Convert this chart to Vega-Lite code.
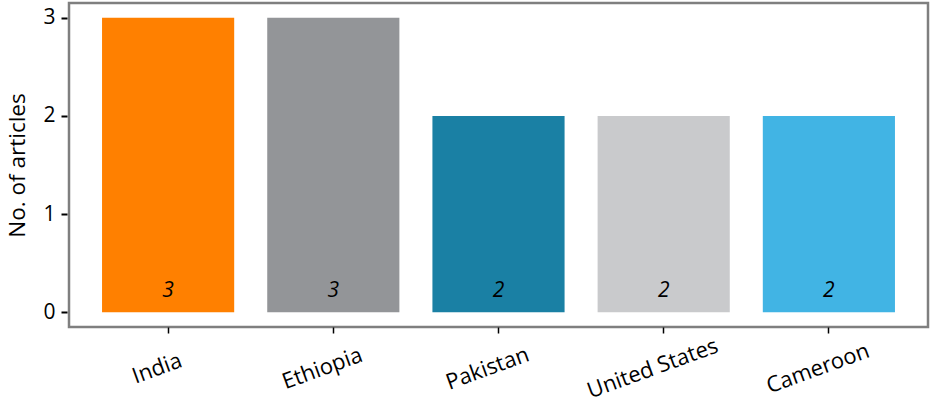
{
  "$schema": "https://vega.github.io/schema/vega-lite/v6.json",
  "autosize": {"type": "none"},
  "padding": {"left": 69, "top": 3, "right": 2, "bottom": 81},
  "width": 859,
  "height": 324,
  "background": "white",
  "config": {
    "view": {"stroke": "#7f7f7f", "strokeWidth": 2.5},
    "font": "Open Sans"
  },
  "data": {
    "values": [
      {"country": "India", "articles": 3},
      {"country": "Ethiopia", "articles": 3},
      {"country": "Pakistan", "articles": 2},
      {"country": "United States", "articles": 2},
      {"country": "Cameroon", "articles": 2}
    ]
  },
  "encoding": {
    "x": {
      "field": "country",
      "type": "nominal",
      "sort": null,
      "scale": {"paddingInner": 0.2, "paddingOuter": 0.2},
      "axis": {
        "title": null,
        "domain": false,
        "grid": false,
        "ticks": true,
        "tickColor": "black",
        "tickSize": 6,
        "tickWidth": 1.5,
        "labelAngle": -20,
        "labelAlign": "center",
        "labelBaseline": "middle",
        "labelOffset": -11,
        "labelPadding": 35,
        "labelFontSize": 22,
        "labelColor": "black",
        "labelFont": "Open Sans"
      }
    }
  },
  "layer": [
    {
      "mark": {"type": "bar"},
      "encoding": {
        "y": {
          "field": "articles",
          "type": "quantitative",
          "scale": {"domain": [-0.15, 3.15], "nice": false, "zero": false},
          "axis": {
            "title": "No. of articles",
            "titleFontSize": 22.5,
            "titleFontWeight": "normal",
            "titleColor": "black",
            "titleFont": "Open Sans",
            "titlePadding": 13,
            "values": [0, 1, 2, 3],
            "format": "d",
            "domain": false,
            "grid": false,
            "tickColor": "black",
            "tickSize": 6,
            "tickWidth": 2,
            "offset": 2,
            "labelFontSize": 21,
            "labelColor": "black",
            "labelPadding": 6,
            "labelFont": "Open Sans"
          }
        },
        "y2": {"datum": 0},
        "color": {
          "field": "country",
          "type": "nominal",
          "legend": null,
          "scale": {
            "domain": ["India", "Ethiopia", "Pakistan", "United States", "Cameroon"],
            "range": ["#ff8000", "#939598", "#1a80a4", "#c9cacc", "#41b4e4"]
          }
        }
      }
    },
    {
      "mark": {"type": "text", "fontStyle": "italic", "fontSize": 21, "color": "black", "baseline": "alphabetic", "dy": -15, "font": "Open Sans"},
      "encoding": {
        "y": {"datum": 0, "type": "quantitative"},
        "text": {"field": "articles", "type": "quantitative"}
      }
    }
  ]
}
